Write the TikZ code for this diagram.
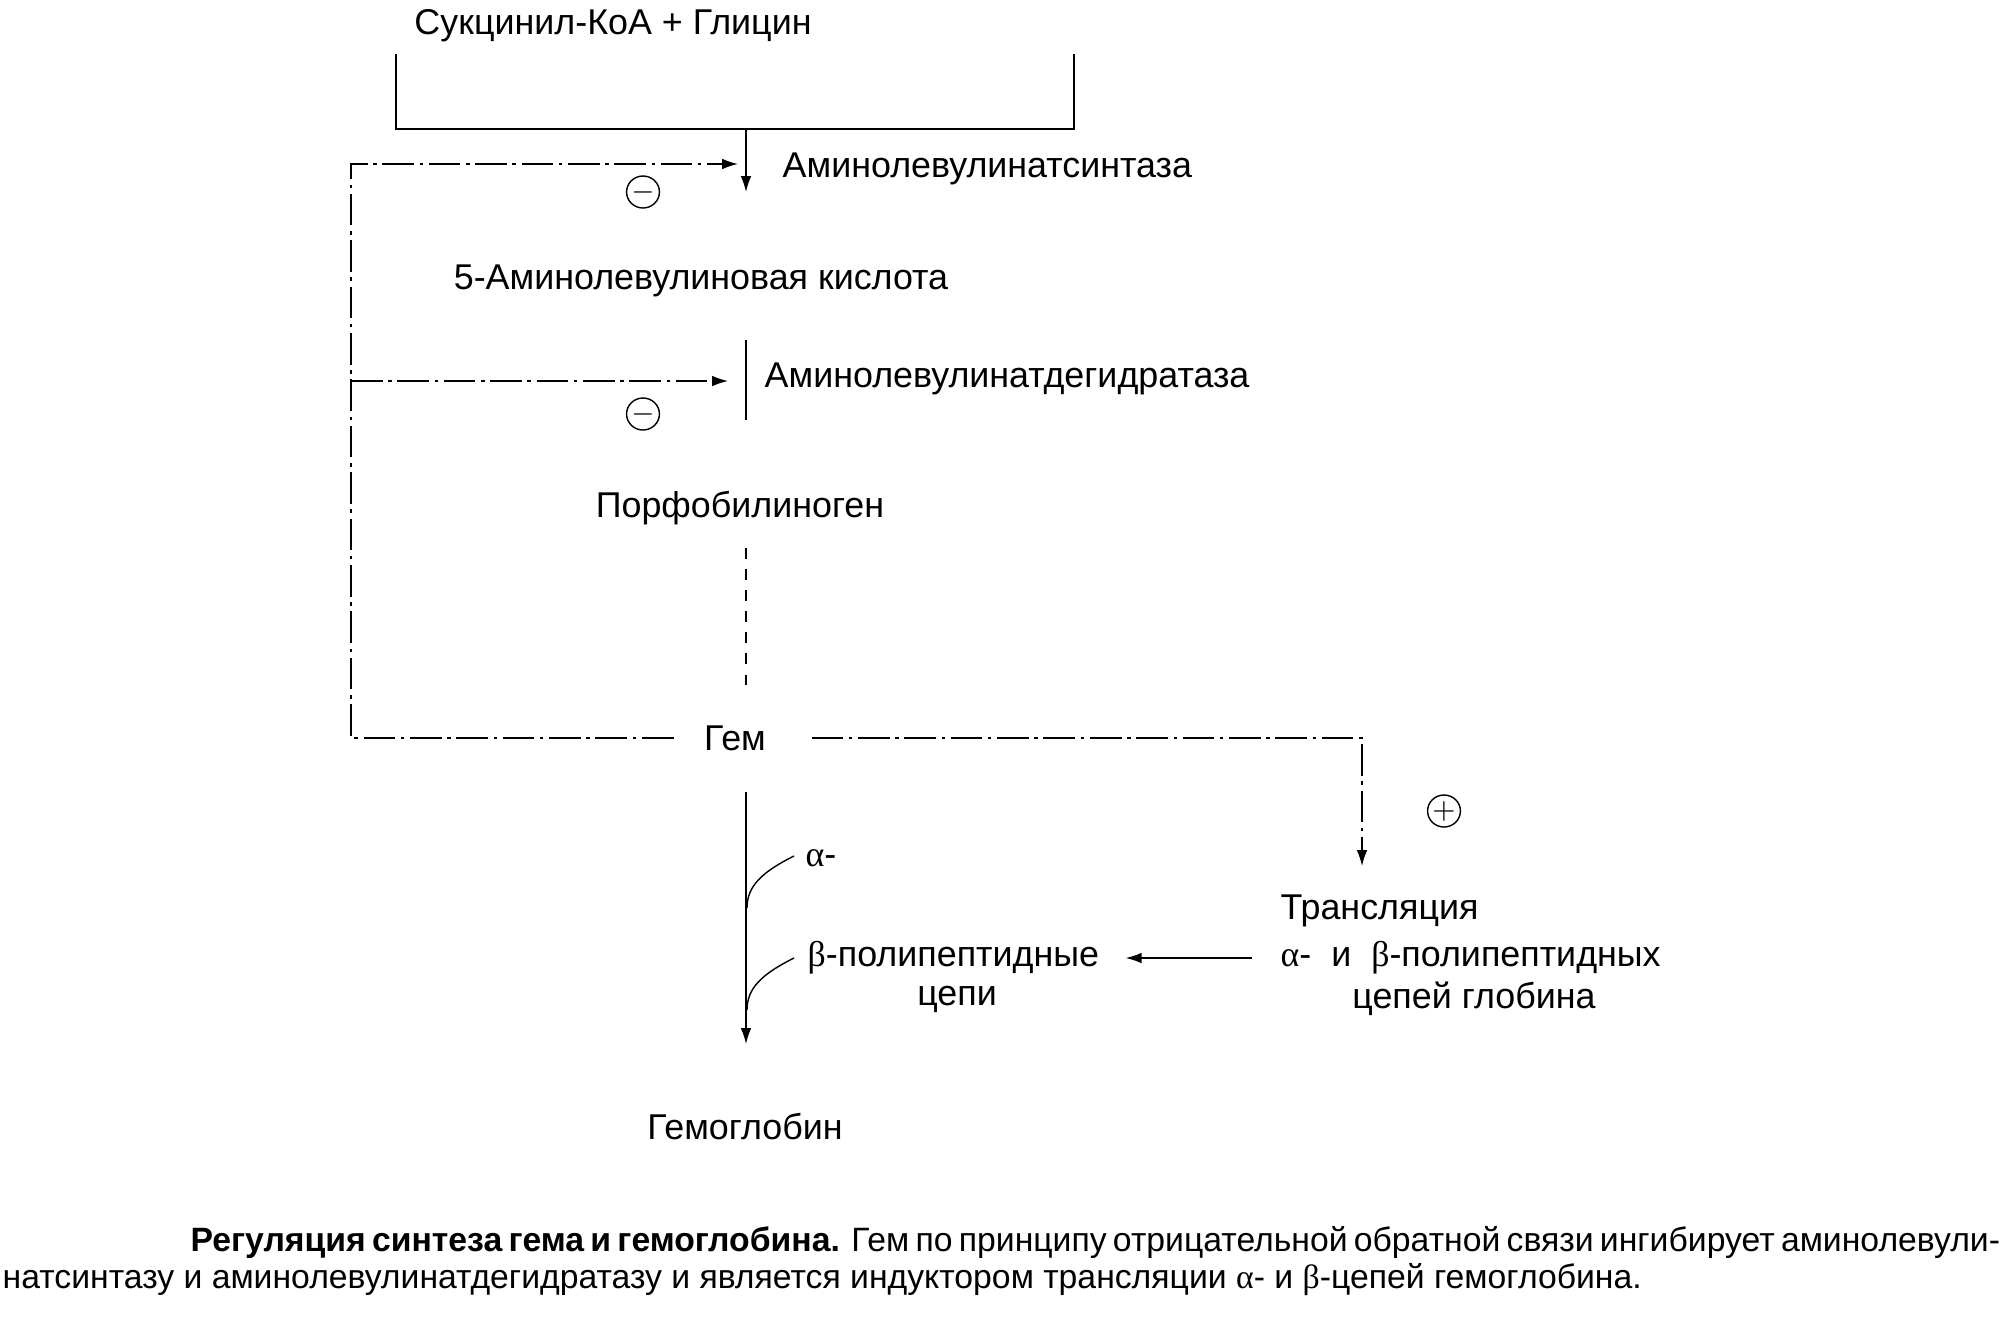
\documentclass[tikz,border=0pt]{standalone}
\usepackage{fontspec}
\setmainfont{Liberation Sans}
\newfontfamily\grk{Liberation Serif}
\usetikzlibrary{arrows.meta,shapes.geometric}

\tikzset{
  lbl/.style={inner sep=0pt, font=\fontsize{10.2}{12}\selectfont},
  captxt/.style={inner sep=0pt, font=\fontsize{9.6}{11}\selectfont},
  fb/.style={thin, dash pattern=on 9pt off 1.6pt on 1pt off 1.6pt},
  tip/.style={-{Latex[length=4.5pt,width=3pt]}},
  sign/.style={draw, ellipse, thin, minimum width=0.27cm, minimum height=0.32cm, inner sep=0pt, font=\footnotesize},
}

\begin{document}
\begin{tikzpicture}
  \useasboundingbox (0,0) rectangle (20.09,-13.39);

  % substrates joined by the bracket
  \node[lbl] (sub) at (6.13,-0.26) {Сукцинил-КоА + Глицин};
  \coordinate (bl) at (3.96,-0.54);
  \coordinate (br) at (10.74,-0.54);
  \coordinate (bm) at (7.46,-1.29);
  \draw (bl) |- (bm) -| (br);

  % first step
  \coordinate (s1) at (7.46,-1.92);
  \draw[tip] (bm) -- (s1);
  \node[lbl,anchor=west] (en1) at (7.82,-1.69) {Аминолевулинатсинтаза};
  \node[lbl] (ala) at (7.01,-2.81) {5-Аминолевулиновая кислота};

  % second step
  \coordinate (b2t) at (7.46,-3.40);
  \coordinate (b2b) at (7.46,-4.20);
  \draw (b2t) -- (b2b);
  \node[lbl,anchor=west] (en2) at (7.64,-3.79) {Аминолевулинатдегидратаза};
  \node[lbl] (pbg) at (7.40,-5.08) {Порфобилиноген};
  \coordinate (d1) at (7.46,-5.48);
  \coordinate (d2) at (7.46,-6.92);
  \draw[dashed] (d1) -- (d2);
  \node[lbl] (gem) at (7.35,-7.38) {Гем};

  % negative feedback of heme
  \coordinate (fbt) at (3.51,-1.64);
  \coordinate (fbm) at (3.51,-3.81);
  \coordinate (a1) at (7.38,-1.64);
  \coordinate (a2) at (7.28,-3.81);
  \draw[fb,tip] ([xshift=-3mm]gem.west) -| (fbt) -- (a1);
  \draw[fb,tip] (fbm) -- (a2);
  \node[sign] (m1) at (6.43,-1.92) {$-$};
  \node[sign] (m2) at (6.43,-4.14) {$-$};

  % positive effect on translation
  \coordinate (tr) at (13.62,-8.66);
  \draw[fb,tip] ([xshift=4.5mm]gem.east) -| (tr);
  \node[sign] (p1) at (14.44,-8.11) {$+$};

  % globin chains
  \node[lbl,anchor=west] (trl) at (12.80,-9.11) {Трансляция};
  \node[lbl,anchor=west] (trl2) at (12.80,-9.58) {{\grk α}-\ \ и\ \ {\grk β}-полипептидных};
  \node[lbl] (trl3) at (14.74,-9.99) {цепей глобина};
  \node[lbl,anchor=west] (alp) at (8.05,-8.58) {{\grk α}-};
  \node[lbl,anchor=west] (bet) at (8.07,-9.58) {{\grk β}-полипептидные};
  \node[lbl] (cep) at (9.57,-9.99) {цепи};
  \draw[tip] ([xshift=-2.8mm]trl2.west) -- ([xshift=2.6mm]bet.east);

  % heme + chains give hemoglobin
  \coordinate (g1) at (7.46,-7.92);
  \coordinate (g2) at (7.46,-10.44);
  \draw[tip] (g1) -- (g2);
  \draw (7.94,-8.56) .. controls (7.62,-8.72) and (7.47,-8.86) .. (7.47,-9.08);
  \draw (7.94,-9.58) .. controls (7.62,-9.74) and (7.47,-9.88) .. (7.47,-10.10);
  \node[lbl] (hb) at (7.45,-11.27) {Гемоглобин};

  % caption
  \node[captxt,anchor=west] (cap1) at (1.90,-12.42) {\makebox[18.09cm][s]{\textbf{Регуляция синтеза гема и гемоглобина.} Гем по принципу отрицательной обратной связи ингибирует аминолевули-}};
  \node[captxt,anchor=west] (cap2) at (0.02,-12.80) {натсинтазу и аминолевулинатдегидратазу и является индуктором трансляции {\grk α}- и {\grk β}-цепей гемоглобина.};
\end{tikzpicture}
\end{document}
